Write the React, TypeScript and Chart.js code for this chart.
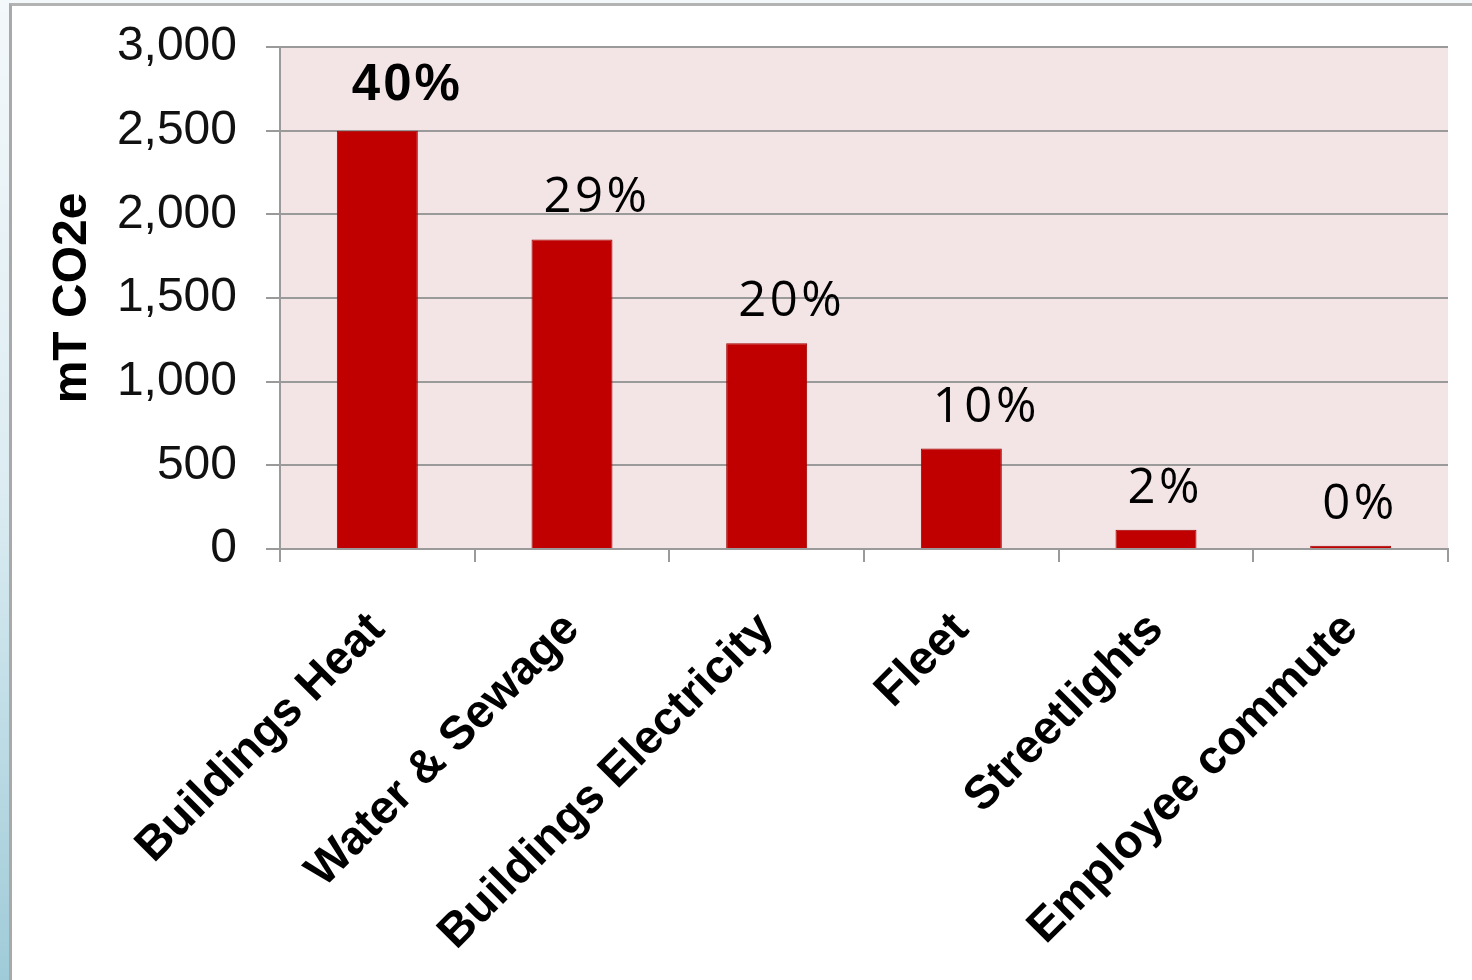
import React, { useEffect, useRef } from "react";
import { Chart, registerables } from "chart.js";

Chart.register(...registerables);

const categories = [
  "Buildings Heat",
  "Water & Sewage",
  "Buildings Electricity",
  "Fleet",
  "Streetlights",
  "Employee commute",
];
const emissions = [2500, 1850, 1230, 600, 115, 20];
const shareLabels = ["40%", "29%", "20%", "10%", "2%", "0%"];
const highlightIndex = 0;
const yMin = 0;
const yMax = 3000;
const yStep = 500;
const yTitle = "mT CO2e";

const plotBackground = {
  id: "plotBackground",
  beforeDraw(chart: any) {
    const { ctx, chartArea } = chart;
    ctx.save();
    ctx.fillStyle = "#f3e5e6";
    ctx.fillRect(chartArea.left, chartArea.top, chartArea.right - chartArea.left, chartArea.bottom - chartArea.top);
    ctx.restore();
  },
};

const shareLabelPlugin = {
  id: "shareLabels",
  afterDatasetsDraw(chart: any) {
    const { ctx } = chart;
    const meta = chart.getDatasetMeta(0);
    meta.data.forEach((bar: any, i: number) => {
      const label = shareLabels[i];
      if (!label) return;
      ctx.save();
      ctx.fillStyle = "#000";
      ctx.textBaseline = "alphabetic";
      ctx.textAlign = "left";
      if (i === highlightIndex) {
        ctx.font = "bold 51px 'Liberation Sans', Arial, sans-serif";
        (ctx as any).letterSpacing = "3px";
        ctx.fillText(label, bar.x - bar.width / 2 + 15, bar.y - 31);
      } else {
        ctx.font = "400 49px 'Open Sans', sans-serif";
        (ctx as any).letterSpacing = "3.5px";
        ctx.fillText(label, bar.x - bar.width / 2 + 12, bar.y - 27);
      }
      ctx.restore();
    });
  },
};

export default function App() {
  const canvasRef = useRef<HTMLCanvasElement | null>(null);

  useEffect(() => {
    if (!canvasRef.current) return;
    const chart = new Chart(canvasRef.current, {
      type: "bar",
      data: {
        labels: categories,
        datasets: [
          {
            data: emissions,
            backgroundColor: "#c00000",
            borderColor: "#a30000",
            borderWidth: 1,
            categoryPercentage: 1,
            barPercentage: 0.416,
          },
        ],
      },
      options: {
        responsive: false,
        animation: false,
        devicePixelRatio: 1,
        layout: { padding: { top: 47, right: 24, left: 0, bottom: 0 } },
        plugins: {
          legend: { display: false },
          tooltip: { enabled: false },
        },
        scales: {
          x: {
            offset: true,
            grid: {
              offset: true,
              drawOnChartArea: false,
              drawTicks: true,
              tickLength: 13,
              color: "#9a9a9a",
              lineWidth: 2,
            },
            border: { display: true, color: "#9a9a9a", width: 2 },
            ticks: {
              autoSkip: false,
              maxRotation: 45,
              minRotation: 45,
              padding: 40,
              color: "#000",
              font: { family: "'Liberation Sans', Arial, sans-serif", size: 47, weight: "bold" },
            },
            afterFit(scale: any) {
              scale.height = 980 - 549;
              scale.paddingTop = 0;
              scale.paddingBottom = 0;
            },
          },
          y: {
            min: yMin,
            max: yMax,
            grid: {
              color: "#9a9a9a",
              lineWidth: 2,
              drawTicks: true,
              tickLength: 14,
            },
            border: { display: true, color: "#9a9a9a", width: 2 },
            ticks: {
              stepSize: yStep,
              padding: 29,
              color: "#111",
              font: { family: "'Liberation Sans', Arial, sans-serif", size: 48 },
              callback: (v: any) => Number(v).toLocaleString("en-US"),
            },
            title: {
              display: true,
              text: yTitle,
              color: "#000",
              padding: { top: 44, bottom: 0 },
              font: { family: "'Liberation Sans', Arial, sans-serif", size: 48, weight: "bold" },
            },
            afterFit(scale: any) {
              scale.width = 280;
              scale.paddingTop = 0;
              scale.paddingBottom = 0;
            },
          },
        },
      },
      plugins: [plotBackground, shareLabelPlugin],
    });
    return () => chart.destroy();
  }, []);

  return (
    <div
      style={{
        position: "absolute",
        left: 0,
        top: 0,
        width: 1472,
        height: 980,
        overflow: "hidden",
        background: "linear-gradient(to bottom, #f3f8fa 0%, #dcecf2 50%, #9fcbd8 100%)",
      }}
    >
      <div
        style={{
          position: "absolute",
          left: 9,
          top: 3,
          right: 0,
          bottom: 0,
          background: "#fff",
          borderLeft: "3px solid #a9a9a9",
          borderTop: "3px solid #b3b3b3",
        }}
      />
      <canvas
        ref={canvasRef}
        width={1472}
        height={980}
        style={{ position: "absolute", left: 0, top: 0, width: 1472, height: 980 }}
      />
    </div>
  );
}
